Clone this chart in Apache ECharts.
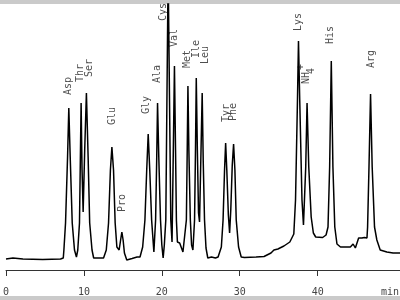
<!DOCTYPE html>
<html>
<head>
<meta charset="utf-8">
<script src="https://cdn.jsdelivr.net/npm/echarts@6/dist/echarts.min.js"></script>
<style>
  html, body { margin: 0; padding: 0; background: #fff; }
  #chart { width: 400px; height: 300px; }
</style>
</head>
<body>
<div id="chart"></div>
<script>
// retention time (min) and detector signal
var times = [
  0, 0.89, 2.17, 4.71, 7.0, 7.35,
  7.43, 7.64, 7.9, 8.06, 8.24, 8.5, 8.79, 9.04,
  9.21, 9.43, 9.54, 9.64, 9.76, 9.9,
  10.1, 10.32, 10.54, 10.74, 11.04, 11.25, 12.52,
  12.87, 13.16, 13.4, 13.59, 13.8, 14.01, 14.23, 14.52,
  14.71, 14.87, 15.03, 15.2, 15.5, 16.18, 16.82, 17.2,
  17.54, 17.83, 18.06, 18.25, 18.45, 18.69, 18.98,
  19.2, 19.34, 19.45, 19.62, 19.83, 20.0, 20.17,
  20.32, 20.51, 20.81, 21.15, 21.31,
  21.44, 21.62, 21.76, 21.87, 22.0, 22.29, 22.71, 22.93,
  23.15, 23.26, 23.35, 23.47, 23.66, 23.82, 23.99,
  24.2, 24.32, 24.42, 24.56, 24.71, 24.84,
  25.03, 25.18, 25.31, 25.48, 25.67, 25.9, 26.37, 26.88, 27.22,
  27.64, 27.86, 28.05, 28.19, 28.34, 28.54, 28.7,
  28.85, 29.04, 29.21, 29.38, 29.55, 29.85, 30.19, 30.6, 32.1, 33.12, 34.01, 34.39, 34.9, 35.67, 36.43, 36.94,
  37.16, 37.41, 37.54, 37.7, 37.99, 38.18,
  38.47, 38.64, 38.86, 39.17, 39.45, 39.75, 40.64, 41.08,
  41.33, 41.54, 41.75, 41.96, 42.2, 42.48, 42.93, 44.2, 44.55, 44.84, 45.06, 45.26, 45.69, 45.99, 46.33, 46.41,
  46.59, 46.79, 47.0, 47.3, 47.6, 48.03, 48.88, 49.68, 50.57
];
var signal = [
  11, 12, 11, 10.5, 11, 12,
  20, 47, 113, 162, 113, 47, 20, 13,
  20, 47, 110, 167, 100, 58,
  120, 177, 113, 47, 20, 12, 12,
  20, 47, 100, 123, 100, 47, 23, 20,
  30, 38, 30, 17, 10, 11.5, 13, 13,
  23, 50, 100, 136, 100, 50, 18,
  50, 110, 167, 110, 50, 25, 12,
  25, 50, 300, 50, 28,
  100, 204, 120, 50, 28, 27, 18, 16,
  50, 120, 184, 120, 50, 25, 20,
  50, 120, 192, 120, 57, 48,
  120, 177, 110, 50, 22, 12, 13, 12, 13,
  23, 50, 100, 127, 100, 55, 37,
  60, 105, 126, 100, 50, 23, 13, 12.5, 13, 13.5, 17, 20, 21, 24, 28, 36,
  70, 170, 229, 170, 70, 45,
  103, 167, 103, 53, 37, 33, 32.5, 35,
  43, 103, 209, 103, 43, 26, 23, 23, 26, 22, 21, 32, 32, 32.5, 32, 43,
  103, 176, 103, 43, 30, 20, 18, 17, 17
];

// peak names with the point where each name sits
var peakNames = ['Asp', 'Thr', 'Ser', 'Glu', 'Pro', 'Gly', 'Ala', 'Cys', 'Val', 'Met', 'Ile', 'Leu', 'Tyr', 'Phe', 'Lys', 'NH', '+', '4', 'His', 'Arg'];
var nameTimes = [8.03, 9.55, 10.7, 13.63, 14.9, 17.96, 19.49, 20.25, 21.66, 23.31, 24.46, 25.6, 28.28, 29.17, 37.58, 38.6, 37.92, 39.24, 41.66, 46.88];
var nameLevels = [184, 197, 202, 154, 67, 165, 196, 258, 232, 211, 221, 215, 157, 158, 248, 192, 203, 199, 235, 211];

var tickValues = [0, 10, 20, 30, 40];

var trace = times.map(function (t, i) { return [t, signal[i]]; });
var names = peakNames.map(function (n, i) { return { value: [nameTimes[i], nameLevels[i]], name: n }; });

var chart = echarts.init(document.getElementById('chart'));
chart.setOption({
  animation: false,
  grid: { left: 3, right: 0, top: 4, bottom: 30 },
  xAxis: {
    type: 'value',
    min: 0,
    max: 50.57,
    interval: 10,
    axisLine: { lineStyle: { color: '#333', width: 1 } },
    axisTick: { length: 6, lineStyle: { color: '#333' }, customValues: tickValues },
    axisLabel: {
      customValues: tickValues,
      margin: 17,
      color: '#444',
      fontFamily: 'DejaVu Sans Mono',
      fontSize: 10
    },
    splitLine: { show: false }
  },
  yAxis: { type: 'value', min: 0, max: 266, show: false },
  series: [
    {
      type: 'line',
      data: trace,
      symbol: 'none',
      clip: true,
      lineStyle: { color: '#000', width: 1.5 }
    },
    {
      type: 'scatter',
      data: names,
      symbolSize: 0,
      label: {
        show: true,
        position: 'inside',
        rotate: 90,
        formatter: '{b}',
        color: '#222',
        fontFamily: 'DejaVu Sans Mono',
        fontSize: 10
      }
    }
  ],
  graphic: [
    { type: 'rect', shape: { x: 0, y: 0, width: 400, height: 4 }, style: { fill: '#cacaca' } },
    { type: 'rect', shape: { x: 0, y: 296, width: 400, height: 4 }, style: { fill: '#cacaca' } },
    { type: 'text', x: 381, y: 287, style: { text: 'min', fill: '#444', font: '10px "DejaVu Sans Mono"' } }
  ]
});
</script>
</body>
</html>
